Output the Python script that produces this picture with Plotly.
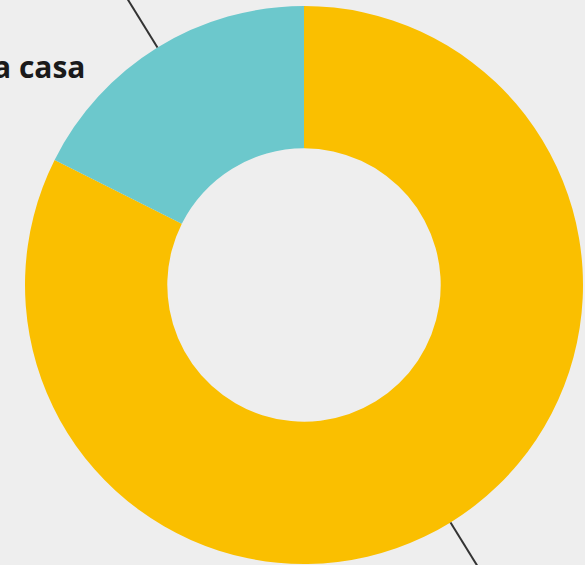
import math
import plotly.graph_objects as go

labels = ["En casa", "Fuera de casa"]
values = [82.4, 17.6]
colors = ["#FABF00", "#6CC8CC"]
label_text = ["", "a casa"]

W, H = 585, 565
cx, cy, R = 304, 285, 279  # pie geometry in pixels

dom_x = [(cx - R) / W, (cx + R) / W]
dom_y = [1 - (cy + R) / H, 1 - (cy - R) / H]

fig = go.Figure(go.Pie(
    labels=labels, values=values, sort=False, direction="clockwise",
    rotation=0, hole=0.49, marker=dict(colors=colors, line=dict(width=0)),
    textinfo="none", hoverinfo="label+percent", showlegend=False,
    domain=dict(x=dom_x, y=dom_y),
))

# radial leader lines at slice midpoints (clockwise from 12 o'clock)
total = sum(values)
shapes = []
cum = 0
for v in values:
    mid = (cum + v / 2) / total * 2 * math.pi
    cum += v
    dx, dy = math.sin(mid), -math.cos(mid)
    x0, y0 = cx + dx * R, cy + dy * R
    x1, y1 = cx + dx * R * 1.35, cy + dy * R * 1.35
    shapes.append(dict(type="line", xref="paper", yref="paper",
                       x0=x0 / W, y0=1 - y0 / H, x1=x1 / W, y1=1 - y1 / H,
                       line=dict(color="#333333", width=2)))

fig.update_layout(
    width=W, height=H, margin=dict(l=0, r=0, t=0, b=0),
    paper_bgcolor="#EEEEEE", plot_bgcolor="#EEEEEE",
    shapes=shapes,
    annotations=[dict(text=label_text[1], x=88 / W, y=1 - 67 / H, xref="paper", yref="paper",
                      xanchor="right", yanchor="middle", showarrow=False,
                      font=dict(family="Open Sans", size=30, color="#1a1a1a", weight=700))],
)
fig.write_html("out.html", config={"displayModeBar": False},
               post_script="document.body.style.margin='0';")
